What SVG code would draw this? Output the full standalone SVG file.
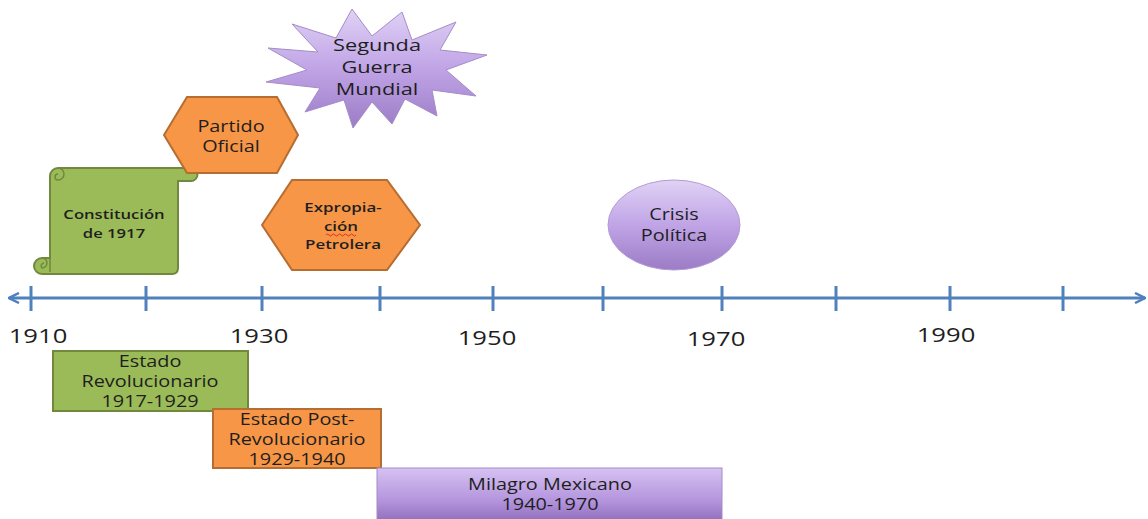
<svg xmlns="http://www.w3.org/2000/svg" width="1148" height="519" viewBox="0 0 1148 519">
<defs>
<style>
text{font-family:"Open Sans","Liberation Sans",sans-serif;fill:#1e1e1e;text-anchor:middle}
.green{fill:#9bbb59;stroke:#71893f;stroke-width:2}
.orange{fill:#f79646;stroke:#b66d31;stroke-width:2}
.axis{stroke:#4f81bd;stroke-width:3;fill:none}
.year{font-size:20px}
.lbl{font-size:15.5px}
.sm{font-size:13px;font-weight:600}
</style>
<linearGradient id="purp" x1="0" y1="0" x2="0" y2="1">
<stop offset="0" stop-color="#e0d2f5"/>
<stop offset="0.5" stop-color="#c0a4e6"/>
<stop offset="1" stop-color="#9b7cc6"/>
</linearGradient>
<linearGradient id="purpbox" x1="0" y1="0" x2="0" y2="1">
<stop offset="0" stop-color="#d6c2f2"/>
<stop offset="0.6" stop-color="#b394dd"/>
<stop offset="1" stop-color="#8d6bb8"/>
</linearGradient>
<marker id="ah" viewBox="0 0 12 12" refX="11" refY="6" markerWidth="12" markerHeight="12" markerUnits="userSpaceOnUse" orient="auto-start-reverse">
<path d="M1,1 L11,6 L1,11" fill="none" stroke="#4f81bd" stroke-width="2.5"/>
</marker>
</defs>

<g id="connectors">
<line class="axis" x1="9" y1="298" x2="1145" y2="298" marker-start="url(#ah)" marker-end="url(#ah)"/>
<g class="axis">
<line x1="31" y1="286" x2="31" y2="311"/>
<line x1="146" y1="286" x2="146" y2="311"/>
<line x1="262" y1="286" x2="262" y2="311"/>
<line x1="380" y1="286" x2="380" y2="311"/>
<line x1="493" y1="286" x2="493" y2="311"/>
<line x1="603" y1="286" x2="603" y2="311"/>
<line x1="722" y1="286" x2="722" y2="311"/>
<line x1="836" y1="286" x2="836" y2="311"/>
<line x1="950" y1="286" x2="950" y2="311"/>
<line x1="1063" y1="286" x2="1063" y2="311"/>
</g>
</g>

<g id="years">
<text class="year" transform="translate(38,343) scale(1.28,1)">1910</text>
<text class="year" transform="translate(259,343) scale(1.28,1)">1930</text>
<text class="year" transform="translate(487,345) scale(1.28,1)">1950</text>
<text class="year" transform="translate(716,346) scale(1.28,1)">1970</text>
<text class="year" transform="translate(946,342) scale(1.28,1)">1990</text>
</g>

<g id="constitucion">
<path class="green" d="M50,180 L50,258 L42,258 A8,8 0 0 0 42,274 L172,274 Q178,274 178,268 L178,181 L191,181 A6.5,6.5 0 0 0 191,168 L58,168 A8,8 0 0 0 50,176 Z"/>
<path d="M58,168 A6,6 0 0 1 58,180 A3,3 0 0 1 58,174 M50,258 L50,272 M42,258 A5,5 0 0 1 42,268 A3,3 0 0 1 44,263" fill="none" stroke="#71893f" stroke-width="1.5"/>
<text class="sm" transform="translate(114,219) scale(1.28,1)">Constitución</text>
<text class="sm" transform="translate(114,238) scale(1.28,1)">de 1917</text>
</g>

<g id="partido">
<polygon class="orange" points="164,135 187,97 277,97 298,135 277,173 187,173"/>
<text class="lbl" transform="translate(231,132) scale(1.28,1)">Partido</text>
<text class="lbl" transform="translate(231,152) scale(1.28,1)">Oficial</text>
</g>

<g id="guerra">
<polygon fill="url(#purp)" stroke="#a58cc8" stroke-width="1" points="402,12 412,40 456,22 440,50 487,55 446,70 476,96 432,90 437,116 405,99 392,124 372,102 353,128 344,100 305,112 320,88 266,82 307,70 268,48 318,52 292,24 336,38 352,9 372,36"/>
<text transform="translate(377,51) scale(1.28,1)" font-size="17">Segunda</text>
<text transform="translate(377,73) scale(1.28,1)" font-size="17">Guerra</text>
<text transform="translate(377,95) scale(1.28,1)" font-size="17">Mundial</text>
</g>

<g id="expropiacion">
<polygon class="orange" points="262,225 292,180 387,180 420,225 387,270 292,270"/>
<text class="sm" transform="translate(343,212) scale(1.3,1)">Expropia-</text>
<text class="sm" transform="translate(341,231) scale(1.3,1)">ción</text>
<path d="M326,235 q1.5,-2 3,0 t3,0 t3,0 t3,0 t3,0 t3,0 t3,0 t3,0 t3,0 t3,0" fill="none" stroke="#e03020" stroke-width="1"/>
<text class="sm" transform="translate(343,249) scale(1.3,1)">Petrolera</text>
</g>

<g id="crisis">
<ellipse cx="674" cy="225" rx="66" ry="45" fill="url(#purp)" stroke="#b49ad6" stroke-width="1"/>
<text class="lbl" transform="translate(674,220) scale(1.28,1)">Crisis</text>
<text class="lbl" transform="translate(674,241) scale(1.28,1)">Política</text>
</g>

<g id="estadoRev">
<rect class="green" x="53" y="351" width="195" height="60"/>
<text class="lbl" transform="translate(150,367) scale(1.28,1)">Estado</text>
<text class="lbl" transform="translate(150,387) scale(1.28,1)">Revolucionario</text>
<text class="lbl" transform="translate(150,407) scale(1.28,1)">1917-1929</text>
</g>

<g id="estadoPost">
<rect class="orange" x="213" y="409" width="168" height="59"/>
<text class="lbl" transform="translate(297,425) scale(1.28,1)">Estado Post-</text>
<text class="lbl" transform="translate(297,445) scale(1.28,1)">Revolucionario</text>
<text class="lbl" transform="translate(297,465) scale(1.28,1)">1929-1940</text>
</g>

<g id="milagro">
<rect x="377" y="468" width="345" height="55" fill="url(#purpbox)" stroke="#a58cc8" stroke-width="1"/>
<text class="lbl" transform="translate(550,490) scale(1.28,1)">Milagro Mexicano</text>
<text class="lbl" transform="translate(550,510) scale(1.28,1)">1940-1970</text>
</g>
</svg>
